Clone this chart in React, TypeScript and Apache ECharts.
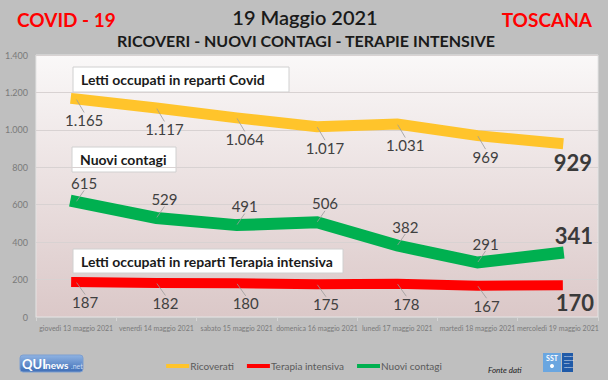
import React, { useEffect, useRef } from "react";
import * as echarts from "echarts";

const categories = [
  "giovedì 13 maggio 2021",
  "venerdì 14 maggio 2021",
  "sabato 15 maggio 2021",
  "domenica 16 maggio 2021",
  "lunedì 17 maggio 2021",
  "martedì 18 maggio 2021",
  "mercoledì 19 maggio 2021",
];
const ricoverati = [1165, 1117, 1064, 1017, 1031, 969, 929];
const terapiaIntensiva = [187, 182, 180, 175, 178, 167, 170];
const nuoviContagi = [615, 529, 491, 506, 382, 291, 341];
const yTicks = { min: 0, max: 1400, interval: 200 };

const FONT = "Lato";
const fmt = (n: number) => String(n).replace(/\B(?=(\d{3})+(?!\d))/g, ".");

const buildData = (vals: number[]) =>
  vals.map((v, i) =>
    i === vals.length - 1
      ? {
          value: v,
          label: { fontSize: 22, fontWeight: "bold", color: "#3a3a3a" },
          labelLine: { show: false },
        }
      : { value: v }
  );

export default function App() {
  const ref = useRef<HTMLDivElement>(null);
  useEffect(() => {
    document.body.style.margin = "0";
    const chart = echarts.init(ref.current!, null, { renderer: "svg" });
    const last = categories.length - 1;
    const mkSeries = (
      name: string,
      vals: number[],
      color: string,
      width: number,
      off: [number, number],
      lastOff: [number, number]
    ) => ({
      name,
      type: "line",
      data: buildData(vals),
      symbol: "circle",
      symbolSize: 1,
      showSymbol: true,
      itemStyle: { color },
      lineStyle: { color, width, cap: "square", join: "miter" },
      label: {
        show: true,
        position: "inside",
        fontFamily: FONT,
        fontSize: 15,
        color: "#404040",
        formatter: (p: any) => fmt(p.value),
      },
      labelLine: { show: true, lineStyle: { color: "#9a9a9a", width: 0.8 } },
      labelLayout: (p: any) =>
        p.dataIndex === last
          ? { dx: lastOff[0], dy: lastOff[1] }
          : { dx: off[0], dy: off[1] },
      emphasis: { disabled: true },
      z: 3,
    });

    const textBox = (x: number, y: number, w: number, h: number, text: string) => ({
      type: "group",
      z: 100,
      children: [
        {
          type: "rect",
          shape: { x, y, width: w, height: h },
          style: { fill: "#ffffff", stroke: "#d0d0d0", lineWidth: 1 },
        },
        {
          type: "text",
          x: x + 8,
          y: y + h / 2,
          style: {
            text,
            fontFamily: FONT,
            fontSize: 14,
            fontWeight: "bold",
            fill: "#1a1a1a",
            textVerticalAlign: "middle",
          },
        },
      ],
    });

    chart.setOption({
      animation: false,
      backgroundColor: "#bfbfbf",
      textStyle: { fontFamily: FONT },
      grid: {
        left: 36,
        right: 10,
        top: 55,
        bottom: 63,
        show: true,
        borderColor: "#e4e4e4",
        borderWidth: 1,
        backgroundColor: new echarts.graphic.LinearGradient(0, 0, 0, 1, [
          { offset: 0, color: "#faf8f8" },
          { offset: 1, color: "#dbc8c8" },
        ]),
      },
      legend: {
        bottom: 4,
        left: "center",
        icon: "rect",
        itemWidth: 23,
        itemHeight: 4,
        itemGap: 13,
        data: ["Ricoverati", "Terapia intensiva", "Nuovi contagi"],
        textStyle: {
          fontFamily: FONT,
          fontSize: 10,
          color: "#5a5a5a",
          padding: [0, 0, 0, -4],
        },
      },
      xAxis: {
        type: "category",
        data: categories,
        boundaryGap: true,
        axisLine: { show: true, lineStyle: { color: "#d4d4d4" } },
        axisTick: { show: true, length: 4, lineStyle: { color: "#d4d4d4" } },
        axisLabel: {
          interval: 0,
          fontFamily: FONT,
          fontSize: 7,
          color: "#7a7a7a",
          margin: 7,
        },
      },
      yAxis: {
        type: "value",
        min: yTicks.min,
        max: yTicks.max,
        interval: yTicks.interval,
        axisLine: { show: false },
        axisTick: { show: false },
        splitLine: { lineStyle: { color: "#d8d2d2", width: 1 } },
        axisLabel: {
          fontFamily: FONT,
          fontSize: 9,
          color: "#7a7a7a",
          margin: 8,
          formatter: (v: number) => fmt(v),
        },
      },
      series: [
        mkSeries("Ricoverati", ricoverati, "#ffc42b", 11, [8, 21], [15, 19]),
        mkSeries("Terapia intensiva", terapiaIntensiva, "#ff0000", 10, [9, 20], [17, 17]),
        mkSeries("Nuovi contagi", nuoviContagi, "#00b050", 12, [8, -19], [16, -18]),
      ],
      graphic: [
        {
          type: "text",
          x: 17,
          y: 19,
          style: {
            text: "COVID - 19",
            fontFamily: FONT,
            fontSize: 19,
            fontWeight: "bold",
            fill: "#ff0000",
            textVerticalAlign: "middle",
          },
        },
        {
          type: "text",
          x: 592,
          y: 19,
          style: {
            text: "TOSCANA",
            fontFamily: FONT,
            fontSize: 19,
            fontWeight: "bold",
            fill: "#ff0000",
            textAlign: "right",
            textVerticalAlign: "middle",
          },
        },
        {
          type: "text",
          x: 305,
          y: 17,
          style: {
            text: "19 Maggio 2021",
            fontFamily: FONT,
            fontSize: 20,
            fontWeight: 600,
            fill: "#1a1a1a",
            textAlign: "center",
            textVerticalAlign: "middle",
          },
        },
        {
          type: "text",
          x: 306,
          y: 40,
          style: {
            text: "RICOVERI - NUOVI CONTAGI - TERAPIE INTENSIVE",
            fontFamily: FONT,
            fontSize: 16,
            fontWeight: "bold",
            fill: "#1a1a1a",
            textAlign: "center",
            textVerticalAlign: "middle",
          },
        },
        textBox(73, 67, 216, 25, "Letti occupati in reparti Covid"),
        textBox(72, 147, 104, 25, "Nuovi contagi"),
        textBox(73, 249, 270, 24, "Letti occupati in reparti Terapia intensiva"),
        // QUInews logo
        {
          type: "group",
          children: [
            {
              type: "rect",
              shape: { x: 20, y: 355, width: 63, height: 17, r: 3 },
              style: {
                fill: new echarts.graphic.LinearGradient(0, 0, 0, 1, [
                  { offset: 0, color: "#8fb3e3" },
                  { offset: 1, color: "#3d6db5" },
                ]),
                stroke: "#7d9fd0",
              },
            },
            {
              type: "text",
              x: 22,
              y: 364,
              style: {
                text: "QUI",
                fontFamily: FONT,
                fontSize: 13,
                fontWeight: "bold",
                fill: "#ffffff",
                textVerticalAlign: "middle",
              },
            },
            {
              type: "text",
              x: 45,
              y: 365,
              style: {
                text: "news",
                fontFamily: FONT,
                fontSize: 10,
                fontWeight: "bold",
                fill: "#ffffff",
                textVerticalAlign: "middle",
              },
            },
            {
              type: "text",
              x: 71,
              y: 366,
              style: {
                text: ".net",
                fontFamily: FONT,
                fontSize: 7,
                fill: "#c9dcf5",
                textVerticalAlign: "middle",
              },
            },
          ],
        },
        {
          type: "text",
          x: 488,
          y: 370,
          style: {
            text: "Fonte dati",
            fontFamily: FONT,
            fontSize: 8,
            fontStyle: "italic",
            fill: "#222222",
            textVerticalAlign: "middle",
          },
        },
        // SST logo
        {
          type: "group",
          children: [
            {
              type: "rect",
              shape: { x: 543, y: 353, width: 18, height: 19 },
              style: { fill: "#6aa6e0" },
            },
            {
              type: "rect",
              shape: { x: 562, y: 353, width: 11, height: 19 },
              style: { fill: "#1f5aa8" },
            },
            {
              type: "text",
              x: 552,
              y: 358,
              style: {
                text: "SST",
                fontFamily: FONT,
                fontSize: 7,
                fontWeight: "bold",
                fill: "#ffffff",
                textAlign: "center",
                textVerticalAlign: "middle",
              },
            },
            {
              type: "circle",
              shape: { cx: 552, cy: 366, r: 2 },
              style: { fill: "#ffffff" },
            },
            {
              type: "text",
              x: 564,
              y: 362,
              style: {
                text: "Servizio\nSanitario\ndella\nToscana",
                fontFamily: FONT,
                fontSize: 2.5,
                lineHeight: 3.5,
                fill: "#ffffff",
                textVerticalAlign: "middle",
              },
            },
          ],
        },
      ],
    });
    return () => chart.dispose();
  }, []);
  return <div ref={ref} style={{ width: 608, height: 380 }} />;
}
